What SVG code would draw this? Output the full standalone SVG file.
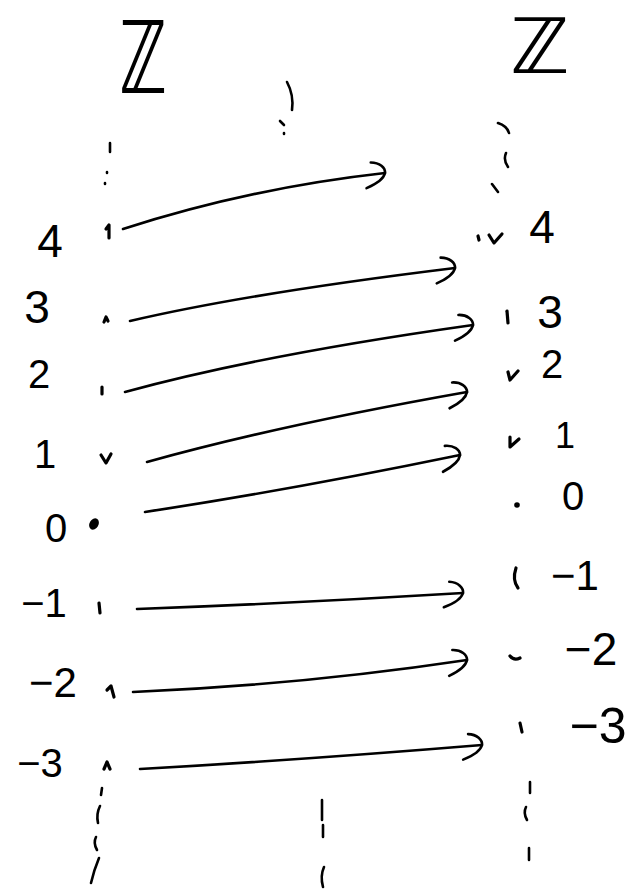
<svg xmlns="http://www.w3.org/2000/svg" width="636" height="890" viewBox="0 0 636 890">
<style>
.lbl{font-family:"Liberation Sans","DejaVu Sans",sans-serif;fill:#000;text-anchor:middle}
.zz{font-family:"DejaVu Sans","Noto Sans",sans-serif;fill:#000;text-anchor:middle}
.mk{fill:none;stroke:#000;stroke-width:3.2;stroke-linecap:round;stroke-linejoin:round}
.ds{fill:none;stroke:#000;stroke-width:2.6;stroke-linecap:round}
.arr{fill:none;stroke:#000;stroke-width:2.6;stroke-linecap:round;marker-end:url(#hd)}
</style>
<defs>
<marker id="hd" markerUnits="userSpaceOnUse" viewBox="-24 -17 28 34" refX="0" refY="0" markerWidth="28" markerHeight="34" orient="auto">
<path d="M-13,-12 C-4,-11 1,-5 0,0 C-2,6 -10,10 -20,13" fill="none" stroke="#000" stroke-width="2.6" stroke-linecap="round" stroke-linejoin="round"/>
</marker>
</defs>
<rect width="636" height="890" fill="#fff"/>

<g id="setLeft"><text class="zz" transform="translate(143,93) scale(0.8,1.25)" font-size="80">ℤ</text></g>
<g id="setRight"><text class="zz" transform="translate(540,73) scale(1.05,1)" font-size="76">ℤ</text></g>

<g id="L4"><text class="lbl" x="50" y="257" font-size="46">4</text><path class="mk" d="M106,229 L109,225 L109,238"/></g>
<g id="L3"><text class="lbl" x="37" y="323" font-size="46">3</text><path class="mk" d="M104,322 L106,317 L108,321"/></g>
<g id="L2"><text class="lbl" x="39" y="388" font-size="40">2</text><path class="mk" d="M102,387 L102,394"/></g>
<g id="L1"><text class="lbl" x="45" y="468" font-size="40">1</text><path class="mk" d="M101,455 L106,463 L111,454"/></g>
<g id="L0"><text class="lbl" x="56" y="542" font-size="40">0</text><ellipse cx="94" cy="524" rx="4.5" ry="6" transform="rotate(30 94 524)" fill="#000"/></g>
<g id="Lm1"><text class="lbl" x="44" y="617" font-size="40">−1</text><path class="mk" d="M99,603 L100,613"/></g>
<g id="Lm2"><text class="lbl" x="53" y="697" font-size="42">−2</text><path class="mk" d="M107,690 L111,686 L114,697"/></g>
<g id="Lm3"><text class="lbl" x="40" y="777" font-size="40">−3</text><path class="mk" d="M104,769 L107,762 L110,769"/></g>

<g id="R4"><text class="lbl" x="542" y="243" font-size="46">4</text><path class="mk" d="M489,235 L494,243 L502,234 M478,236 L479,240"/></g>
<g id="R3"><text class="lbl" x="550" y="328" font-size="46">3</text><path class="mk" d="M507,311 L508,323"/></g>
<g id="R2"><text class="lbl" x="552" y="378" font-size="40">2</text><path class="mk" d="M508,372 L510,380 L518,371"/></g>
<g id="R1"><text class="lbl" x="565" y="448" font-size="36">1</text><path class="mk" d="M510,437 L510,447 L519,439"/></g>
<g id="R0"><text class="lbl" x="573" y="510" font-size="40">0</text><circle cx="517" cy="505" r="2.8" fill="#000"/></g>
<g id="Rm1"><text class="lbl" x="575" y="590" font-size="42">−1</text><path class="mk" d="M516,568 Q512,580 518,588"/></g>
<g id="Rm2"><text class="lbl" x="591" y="665" font-size="46">−2</text><path class="mk" d="M510,656 Q514,661 520,658"/></g>
<g id="Rm3"><text class="lbl" x="598" y="743" font-size="50">−3</text><path class="mk" d="M520,723 L522,732"/></g>

<g id="continuations">
<path class="ds" d="M110,143 L110,152 M107,172 L107,173 M105,183 L105,184"/>
<path class="ds" d="M287,82 Q294,95 292,110 M280,121 L284,125 M284,133 L284,134"/>
<path class="ds" d="M498,123 Q507,126 509,133 M506,153 Q503,160 508,167 M492,184 L498,192"/>
<path class="ds" d="M102,788 L101,795 M100,806 Q96,814 98,823 M96,837 Q93,843 97,850 M99,858 Q94,870 91,883"/>
<path class="ds" d="M322,800 L322,820 M323,825 L323,837 M324,867 Q320,876 323,887"/>
<path class="ds" d="M530,782 L530,793 M526,807 Q523,813 527,820 M529,848 L529,860"/>
</g>

<g id="connectors">
<path class="arr" d="M123,229 Q250,188 385,173"/>
<path class="arr" d="M130,321 Q250,293 455,268"/>
<path class="arr" d="M125,392 Q260,355 473,325"/>
<path class="arr" d="M147,462 Q280,425 467,392"/>
<path class="arr" d="M145,512 Q290,490 460,455"/>
<path class="arr" d="M137,609 Q300,603 463,593"/>
<path class="arr" d="M133,692 Q300,685 467,660"/>
<path class="arr" d="M140,769 Q300,760 482,745"/>
</g>
</svg>
